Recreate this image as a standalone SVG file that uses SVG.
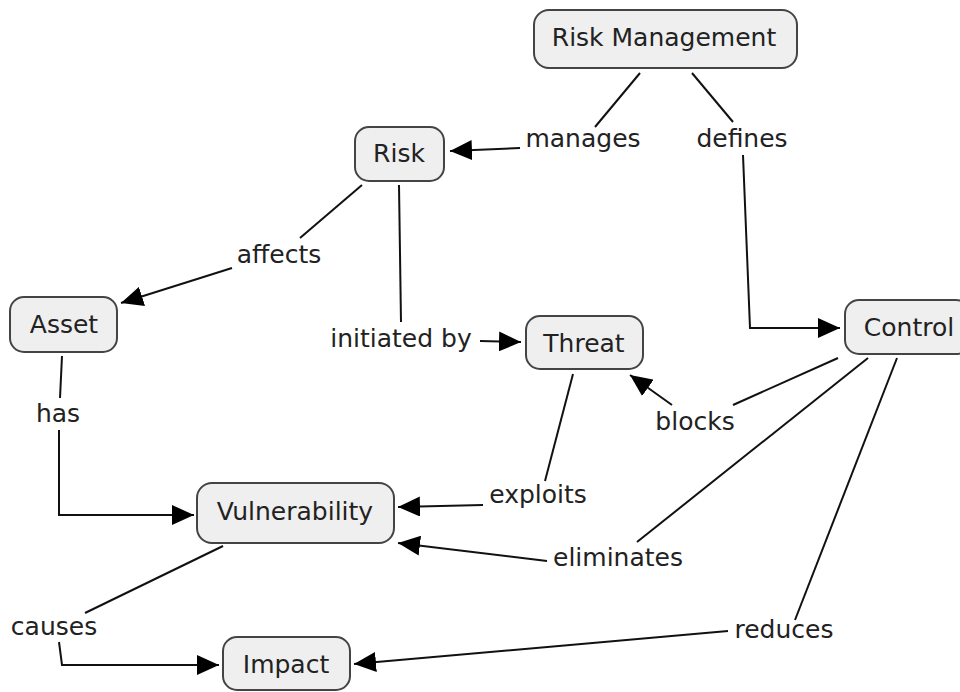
<svg xmlns="http://www.w3.org/2000/svg" width="960" height="692" viewBox="0 0 960 692">
<defs>
<style>
.node rect{fill:#efefef;stroke:#444;stroke-width:2}
text{font-family:"DejaVu Sans","Verdana",sans-serif;font-size:25px;fill:#222;text-anchor:middle}
.conn line,.conn polyline{stroke:#111;stroke-width:2;fill:none}
</style>
<marker id="arr" viewBox="0 0 22 20" refX="22" refY="10" markerWidth="22" markerHeight="20" markerUnits="userSpaceOnUse" orient="auto">
<path d="M0,0 L22,10 L0,20 Z" fill="#000"/>
</marker>
</defs>
<rect width="960" height="692" fill="#fff"/>
<g id="connectors" class="conn">
<line x1="640" y1="73" x2="595" y2="127"/>
<line x1="520" y1="148" x2="450" y2="151" marker-end="url(#arr)"/>
<line x1="692" y1="73" x2="733" y2="122"/>
<polyline points="743,155 750,328 840,328" marker-end="url(#arr)"/>
<line x1="362" y1="185" x2="300" y2="238"/>
<line x1="232" y1="268" x2="121" y2="303" marker-end="url(#arr)"/>
<line x1="399" y1="185" x2="401" y2="322"/>
<line x1="480" y1="341" x2="521" y2="342" marker-end="url(#arr)"/>
<line x1="62" y1="356" x2="60" y2="398"/>
<polyline points="59,430 59,515 194,515" marker-end="url(#arr)"/>
<line x1="573" y1="374" x2="545" y2="481"/>
<line x1="483" y1="505" x2="398" y2="507" marker-end="url(#arr)"/>
<line x1="838" y1="358" x2="733" y2="405"/>
<line x1="672" y1="405" x2="630" y2="375" marker-end="url(#arr)"/>
<line x1="868" y1="358" x2="637" y2="542"/>
<line x1="547" y1="561" x2="398" y2="543" marker-end="url(#arr)"/>
<line x1="897" y1="358" x2="795" y2="620"/>
<line x1="728" y1="631" x2="354" y2="664" marker-end="url(#arr)"/>
<line x1="223" y1="546" x2="85" y2="613"/>
<polyline points="59,642 62,665 219,665" marker-end="url(#arr)"/>
</g>
<g id="risk-management" class="node"><rect x="534" y="10" width="263" height="58" rx="15"/><text x="664" y="46">Risk Management</text></g>
<g id="risk" class="node"><rect x="355" y="127" width="89" height="54" rx="14"/><text x="399" y="162">Risk</text></g>
<g id="asset" class="node"><rect x="10" y="297" width="107" height="55" rx="14"/><text x="64" y="333">Asset</text></g>
<g id="threat" class="node"><rect x="526" y="316" width="117" height="53" rx="14"/><text x="584" y="352">Threat</text></g>
<g id="control" class="node"><rect x="845" y="300" width="125" height="54" rx="14"/><text x="909" y="336">Control</text></g>
<g id="vulnerability" class="node"><rect x="197" y="483" width="197" height="60" rx="15"/><text x="295" y="520">Vulnerability</text></g>
<g id="impact" class="node"><rect x="223" y="637" width="127" height="53" rx="14"/><text x="286" y="673">Impact</text></g>
<g id="labels">
<text x="583" y="147">manages</text>
<text x="742" y="147">defines</text>
<text x="279" y="263">affects</text>
<text x="401" y="347">initiated by</text>
<text x="58" y="422">has</text>
<text x="695" y="430">blocks</text>
<text x="538" y="503">exploits</text>
<text x="618" y="566">eliminates</text>
<text x="54" y="635">causes</text>
<text x="784" y="638">reduces</text>
</g>
</svg>
